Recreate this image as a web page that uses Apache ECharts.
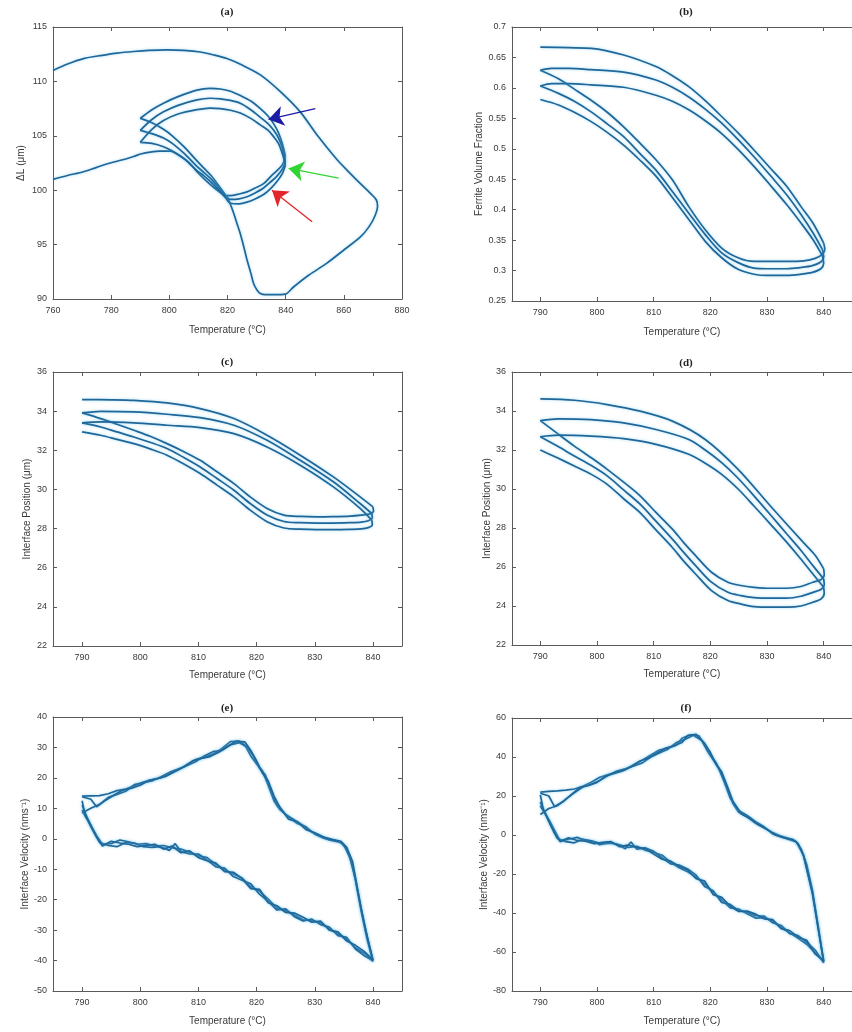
<!DOCTYPE html>
<html><head><meta charset="utf-8">
<script src="https://cdn.jsdelivr.net/npm/echarts@6/dist/echarts.min.js"></script>
<style>html,body{margin:0;padding:0;background:#fff}#c{width:852px;height:1032px}</style>
</head><body><div id="c"></div>
<script>
// ---------- Panel (a): ΔL vs Temperature ----------
const aOuter = [[760,101.0],[765,101.35],[770.5,101.7],[775,102.1],[779.7,102.5],[784,102.8],[787.7,103.1],[790.5,103.35],[793.4,103.5],[796.5,103.6],[800.3,103.6],[804,103.1],[807,102.5],[809.5,101.7],[812.5,100.9],[815.5,100.2],[818,99.7],[819.8,99.4],[821,98.7],[822.1,97.9],[823.3,96.9],[824.4,96.0],[825.6,94.8],[826.7,93.6],[828,92.4],[829,91.4],[830.2,90.8],[831.3,90.5],[833,90.4],[836,90.4],[839.9,90.45],[842.7,91.1],[848,92.2],[854.2,93.3],[860,94.5],[865.7,95.7],[868.8,96.7],[870.8,97.7],[871.6,98.5],[871.2,99.1],[868.8,99.8],[865.7,100.6],[862,101.6],[857.7,102.8],[851,105.0],[845,107.2],[838,109.1],[831.3,110.6],[825,111.5],[819.8,112.1],[815,112.45],[810.7,112.7],[805,112.85],[799.2,112.9],[793,112.85],[787.7,112.75],[782,112.6],[777,112.4],[770.5,112.1],[765,111.6],[760,111.0]];
const aCool1 = [[819.5,99.5],[817,100.4],[814.5,101.3],[812,102.0],[809.5,102.7],[805,104.0],[801,105.0],[798,105.6],[794,106.2],[790,106.6]];
const aCool2 = [[819.5,99.35],[817,100.2],[814.5,101.0],[812,101.6],[809.5,102.2],[805,103.4],[801,104.3],[798,104.8],[794,105.2],[790,105.5]];
const aCool3 = [[819.5,99.25],[817,100.0],[814.5,100.7],[812,101.3],[809.5,101.8],[805,102.9],[801,103.6],[798,104.0],[794,104.3],[790,104.4]];
const aTop1 = [[790,106.6],[794,107.4],[798,108.0],[803,108.6],[809.5,109.2],[814,109.35],[817.5,109.3],[821,109.1],[824.4,108.7],[828,108.2],[831.3,107.5],[834,106.8],[835.9,106.1],[837.5,105.3],[838.7,104.4],[839.5,103.6],[839.9,103.1]];
const aTop2 = [[790,105.5],[794,106.5],[798,107.2],[803,107.8],[809.5,108.3],[814,108.45],[817.5,108.4],[821,108.25],[824.4,108.0],[828,107.4],[831.3,106.7],[834,106.1],[835.9,105.5],[837.5,104.8],[838.7,104.0],[839.5,103.2],[839.9,102.6]];
const aTop3 = [[790,104.4],[794,105.6],[798,106.4],[803,107.0],[809.5,107.4],[814,107.55],[817.5,107.5],[821,107.35],[824.4,107.1],[828,106.6],[831.3,106.0],[834,105.5],[835.9,104.9],[837.5,104.3],[838.7,103.5],[839.5,102.8],[839.9,102.3]];
const aBot1 = [[839.9,103.1],[838.8,102.3],[837,101.8],[835,101.3],[832.4,100.6],[829.5,100.2],[826.7,99.85],[824,99.65],[821,99.5],[819.5,99.5]];
const aBot2 = [[839.9,102.6],[838.8,101.9],[837,101.3],[835,100.8],[832.4,100.2],[829.5,99.75],[826.7,99.4],[824,99.2],[821,99.15],[819.5,99.35]];
const aBot3 = [[839.9,102.3],[838.8,101.5],[837,100.8],[835,100.2],[832.4,99.6],[829.5,99.2],[826.7,98.9],[824,98.75],[821,98.8],[819.5,99.25]];
const aArrowTails = [[850.2,107.5],[858.2,101.1],[849.1,97.1]];
const aArrowHeads = [[834.1,106.5],[841.0,102.0],[835.3,100.0]];

// ---------- Panel (b): Ferrite volume fraction ----------
const bTop1 = [[790,0.667],[795,0.666],[799,0.665],[804.7,0.654],[810.4,0.635],[813.3,0.620],[816.2,0.602],[819.1,0.579],[822,0.553],[824.9,0.526],[827.7,0.498],[830.6,0.468],[833.5,0.438],[836,0.405],[838.1,0.378],[840,0.345]];
const bBot1 = [[840,0.345],[840.2,0.335],[839.8,0.327],[838.5,0.320],[836.5,0.316],[833.5,0.315],[830,0.315],[827.7,0.315],[824.9,0.321],[822,0.337],[819.1,0.367],[816.2,0.405],[813.3,0.449],[810.4,0.482],[807.5,0.510],[804.7,0.536],[801.8,0.560],[798.9,0.580],[796,0.598],[793.2,0.615],[790,0.629]];
const bTop2 = [[790,0.629],[792,0.632],[795,0.632],[798.9,0.630],[804.7,0.626],[810.4,0.613],[813.3,0.601],[816.2,0.585],[819.1,0.565],[822,0.542],[824.9,0.515],[827.7,0.487],[830.6,0.456],[833.5,0.424],[836,0.392],[838.1,0.362],[839.8,0.334]];
const bBot2 = [[839.8,0.334],[840,0.322],[839.5,0.314],[838,0.308],[836,0.305],[833.5,0.303],[830,0.303],[827.7,0.304],[824.9,0.313],[822,0.329],[819.1,0.359],[816.2,0.394],[813.3,0.430],[810.4,0.465],[807.5,0.493],[804.7,0.520],[801.8,0.541],[798.9,0.561],[796,0.578],[793.2,0.591],[790,0.603]];
const bTop3 = [[790,0.603],[792,0.607],[795,0.607],[798.9,0.605],[804.7,0.601],[810.4,0.588],[813.3,0.578],[816.2,0.564],[819.1,0.546],[822,0.525],[824.9,0.499],[827.7,0.471],[830.6,0.440],[833.5,0.408],[836,0.378],[838.1,0.351],[839.8,0.324]];
const bBot3 = [[839.8,0.324],[840,0.312],[839.5,0.303],[838,0.297],[836,0.294],[833.5,0.292],[830,0.292],[827.7,0.294],[824.9,0.302],[822,0.321],[819.1,0.348],[816.2,0.384],[813.3,0.420],[810.4,0.455],[807.5,0.482],[804.7,0.506],[801.8,0.527],[798.9,0.545],[796,0.560],[793.2,0.572],[790,0.581]];

// ---------- Panel (c): Interface position ----------
const cTop1 = [[790,34.59],[795,34.58],[798.9,34.55],[804.6,34.42],[810.3,34.13],[816.1,33.62],[821.8,32.77],[827.5,31.75],[833.2,30.64],[837.8,29.62],[840,29.11]];
const cBot1 = [[840,29.11],[840.1,28.9],[839.5,28.75],[838,28.69],[836.1,28.64],[833,28.61],[830.4,28.6],[827.5,28.62],[824.7,28.69],[821.8,29.03],[818.9,29.62],[816.1,30.3],[813.2,30.9],[810.3,31.49],[807.5,31.93],[804.6,32.34],[801.8,32.7],[798.9,33.02],[796,33.33],[793.2,33.62],[790,33.91]];
const cTop2 = [[790,33.91],[793.2,33.99],[798.9,33.96],[804.6,33.84],[810.3,33.67],[816.1,33.28],[821.8,32.51],[827.5,31.49],[833.2,30.39],[837.8,29.28],[839.8,28.77]];
const cBot2 = [[839.8,28.77],[839.9,28.55],[839.2,28.4],[838,28.33],[836,28.3],[833,28.28],[830.4,28.28],[827.5,28.3],[824.7,28.36],[821.8,28.69],[818.9,29.28],[816.1,29.96],[813.2,30.56],[810.3,31.15],[807.5,31.63],[804.6,32.09],[801.8,32.4],[798.9,32.68],[796,32.94],[793.2,33.19],[790,33.4]];
const cTop3 = [[790,33.4],[793.2,33.45],[798.9,33.40],[804.6,33.28],[810.3,33.16],[816.1,32.85],[821.8,32.17],[827.5,31.24],[833.2,30.13],[837.8,29.03],[839.8,28.43]];
const cBot3 = [[839.8,28.43],[839.9,28.2],[839.2,28.05],[838,27.98],[836,27.96],[833,27.95],[830.4,27.95],[827.5,27.97],[824.7,28.03],[821.8,28.35],[818.9,28.94],[816.1,29.62],[813.2,30.22],[810.3,30.81],[807.5,31.3],[804.6,31.75],[801.8,32.06],[798.9,32.34],[796,32.56],[793.2,32.77],[790,32.94]];

// ---------- Panel (d): Interface position ----------
const dTop1 = [[790,34.62],[796,34.55],[801.8,34.33],[807.6,33.99],[813.3,33.48],[819.1,32.54],[824.9,31.01],[830.6,29.13],[836.4,27.26],[838.5,26.6],[840,25.9]];
const dBot1 = [[840,25.9],[840.1,25.6],[839.5,25.35],[838.1,25.22],[836,25.0],[833.5,24.91],[830.6,24.91],[827.7,24.96],[825.4,25.05],[823.1,25.22],[820.2,25.73],[817.4,26.58],[815.3,27.25],[813.3,27.94],[810.4,28.8],[807.6,29.65],[804.7,30.35],[801.8,31.01],[799,31.6],[796,32.2],[793,32.85],[790,33.51]];
const dTop2 = [[790,33.51],[793.2,33.6],[798.9,33.56],[804.7,33.39],[810.4,33.05],[816.2,32.54],[819.1,32.0],[822,31.35],[824.9,30.55],[827.7,29.65],[830.6,28.68],[833.5,27.69],[836,26.85],[838.1,26.07],[840,25.39]];
const dBot2 = [[840,25.39],[840.1,25.1],[839.5,24.85],[838.1,24.7],[836,24.5],[833.5,24.4],[830.6,24.4],[827.7,24.43],[825.4,24.53],[823.1,24.7],[820.2,25.22],[817.4,26.07],[815.3,26.75],[813.3,27.43],[810.4,28.35],[807.6,29.22],[804.7,29.95],[801.8,30.67],[799,31.2],[796,31.69],[793,32.2],[790,32.68]];
const dTop3 = [[790,32.68],[793.2,32.76],[798.9,32.71],[804.7,32.58],[810.4,32.29],[816.2,31.78],[819.1,31.32],[822,30.75],[824.9,30.0],[827.7,29.13],[830.6,28.2],[833.5,27.26],[836,26.4],[838.1,25.64],[840,24.96]];
const dBot3 = [[840,24.96],[840.1,24.65],[839.5,24.35],[838.1,24.19],[836,24.0],[833.5,23.94],[830.6,23.94],[827.7,23.97],[825.4,24.1],[823.1,24.28],[820.2,24.79],[817.4,25.64],[815.3,26.3],[813.3,27.0],[810.4,27.9],[807.6,28.79],[804.7,29.5],[801.8,30.24],[799,30.75],[796,31.18],[793,31.6],[790,32.0]];

// ---------- Panel (e): Interface velocity ----------
const eCycle1 = [[790,14.0],[791.5,14.1],[793,14.2],[794.5,14.8],[796,15.8],[797.5,16.3],[799,17.4],[800.5,18.6],[802,19.4],[803.5,20.0],[805,21.2],[806.5,22.6],[808,24.3],[809.5,26.0],[811,26.8],[812.5,27.8],[814,29.6],[815.5,31.9],[817,32.1],[818,30.8],[819,27.2],[820,24.6],[821,22.3],[822,17.5],[823,12.4],[824,9.6],[825.5,7.2],[827,5.0],[828.5,3.9],[830,1.5],[831.5,0.2],[833,-0.6],[834.5,-1.2],[835.5,-3.5],[836.5,-8.5],[838,-24.0],[839,-33.0],[840,-40.3],
 [838.5,-37.6],[837,-35.8],[835.5,-33.0],[834,-31.2],[832.5,-29.6],[831,-27.6],[829.5,-26.9],[828,-26.6],[826.5,-25.0],[825,-23.6],[823.5,-22.8],[822,-19.8],[820.5,-17.2],[819,-15.8],[817.5,-12.9],[816,-11.6],[814.5,-10.2],[813,-8.4],[811.5,-6.2],[810,-5.6],[808.5,-4.4],[807,-3.4],[805.5,-3.0],[804,-2.2],[802.5,-2.4],[801,-1.6],[799.5,-1.8],[798,-1.0],[796.5,-0.4],[795,-1.6],[793.5,-1.8],[792.5,1.0],[791.5,4.5],[790.5,7.5],[790,9.5]];
const eCycle2 = [[790,8.5],[791.5,10.0],[793,11.3],[794.5,13.6],[796,14.6],[797.5,15.6],[799,17.8],[800.5,18.4],[802,19.0],[803.5,20.3],[805,21.8],[806.5,22.9],[808,24.0],[809.5,25.3],[811,27.2],[812.5,28.6],[814,29.0],[815.5,30.8],[817,31.6],[818.5,30.0],[819.5,27.0],[820.5,23.2],[821.5,21.0],[822.5,15.6],[823.5,11.0],[825,8.0],[826.5,6.2],[828,4.4],[829.5,2.2],[831,1.0],[832.5,-0.3],[834,-0.8],[835,-2.0],[836,-6.0],[837,-13.5],[838.5,-28.0],[840,-40.0],
 [838.5,-38.4],[837,-36.2],[835.5,-32.4],[834,-31.8],[832.5,-29.0],[831,-28.2],[829.5,-26.4],[828,-27.0],[826.5,-25.6],[825,-23.0],[823.5,-23.4],[822,-20.6],[820.5,-18.2],[819,-14.8],[817.5,-13.6],[816,-12.4],[814.5,-9.6],[813,-9.2],[811.5,-7.0],[810,-5.0],[808.5,-5.0],[807,-4.2],[806,-1.6],[805,-3.8],[803.5,-2.6],[802,-2.8],[800.5,-2.6],[799,-1.4],[797.5,-1.2],[796,-2.6],[794.5,-2.2],[793,-1.2],[792,2.5],[791,6.5],[790,11.0]];
const eCycle3 = [[790,13.8],[791.5,13.0],[792.5,10.5],[794,12.6],[795.5,14.4],[797,16.0],[798.5,16.6],[800,17.6],[801.5,19.2],[803,19.8],[804.5,20.6],[806,22.2],[807.5,23.6],[809,25.6],[810.5,26.4],[812,27.0],[813.5,28.4],[815,30.4],[816.5,32.0],[818,31.8],[819,29.0],[820,25.6],[821,21.6],[822,19.0],[823,14.0],[824,10.4],[825.5,6.4],[827,5.6],[828.5,3.0],[830,2.0],[831.5,0.6],[833,-0.2],[834.5,-0.8],[835.5,-2.8],[836.5,-7.5],[838,-23.0],[839,-32.0],[840,-39.8],
 [838.5,-37.0],[837,-35.0],[835.5,-33.6],[834,-30.6],[832.5,-30.0],[831,-27.0],[829.5,-27.4],[828,-25.8],[826.5,-24.4],[825,-24.2],[823.5,-22.0],[822,-21.0],[820.5,-16.6],[819,-16.4],[817.5,-13.0],[816,-11.0],[814.5,-10.8],[813,-8.0],[811.5,-7.2],[810,-6.2],[808.5,-4.0],[807,-4.6],[805.5,-2.4],[804,-3.4],[802.5,-1.8],[801,-2.2],[799.5,-2.6],[798,-1.8],[796.5,-1.4],[795,-0.8],[793.5,-2.4],[792.5,0.5],[791.5,4.0],[790.5,8.0],[790,12.5]];

// ---------- Panel (f): Interface velocity ----------
const fCycle1 = [[790,22.0],[791.5,22.4],[793,22.6],[794.5,23.0],[796,23.6],[797.5,25.0],[799,27.0],[800.5,29.6],[802,31.0],[803.5,32.2],[805,33.6],[806.5,36.0],[808,38.4],[809.5,41.0],[811,43.6],[812.5,44.6],[814,46.0],[815,49.6],[816.5,51.4],[818,50.8],[819,46.0],[820,41.0],[821,37.2],[822,31.0],[823,23.6],[824,16.0],[825,11.6],[826.5,9.2],[828,6.0],[829.5,3.6],[831,1.2],[832.5,-0.6],[834,-2.0],[835,-3.0],[836,-7.0],[837,-15.0],[838,-28.0],[839,-46.0],[840,-64.8],
 [838.5,-60.5],[837,-56.0],[835.5,-53.0],[834,-50.2],[832.5,-47.6],[831,-44.0],[829.5,-42.4],[828,-42.6],[826.5,-40.4],[825,-38.0],[823.5,-37.4],[822,-33.2],[820.5,-29.4],[819,-25.0],[817.5,-21.6],[816,-18.8],[814.5,-16.8],[813,-14.0],[811.5,-10.4],[810,-9.0],[808.5,-7.8],[807,-5.8],[805.5,-6.4],[804,-5.0],[802.5,-4.2],[801,-4.6],[799.5,-3.4],[798,-2.8],[796.5,-1.2],[795,-2.2],[793.5,-3.0],[792.5,2.5],[791.5,8.0],[790.5,13.0],[790,17.0]];
const fCycle2 = [[790,10.5],[791.5,13.6],[793,15.0],[794.5,18.4],[796,21.6],[797.5,24.6],[799,26.0],[800.5,28.0],[802,30.6],[803.5,32.8],[805,34.0],[806.5,35.4],[808,37.0],[809.5,40.0],[811,42.0],[812.5,44.0],[814,47.4],[815.5,49.0],[817,51.2],[818.5,48.4],[819.5,43.0],[820.5,38.6],[821.5,34.0],[822.5,27.0],[823.5,19.0],[825,12.6],[826.5,10.0],[828,6.8],[829.5,4.2],[831,0.6],[832.5,-1.0],[834,-2.4],[835.2,-3.6],[836.4,-10.0],[838,-30.0],[839,-47.0],[840,-65.5],
 [838.5,-59.0],[837,-55.0],[835.5,-51.6],[834,-50.6],[832.5,-46.4],[831,-45.0],[829.5,-41.6],[828,-41.4],[826.5,-39.6],[825,-38.8],[823.5,-35.6],[822,-34.6],[820.5,-28.6],[819,-26.4],[817.5,-20.6],[816,-17.4],[814.5,-15.4],[813,-14.8],[811.5,-11.8],[810,-8.4],[808.5,-6.6],[807,-7.2],[806,-3.6],[805,-7.0],[803.5,-4.8],[802,-3.6],[800.5,-5.0],[799,-3.0],[797.5,-2.2],[796,-4.0],[794.5,-3.4],[793,-1.8],[792,4.0],[791,10.0],[790,15.0]];
const fCycle3 = [[790,21.4],[791.5,20.0],[792.5,14.6],[794,17.0],[795.5,20.8],[797,24.4],[798.5,25.4],[800,27.0],[801.5,30.2],[803,31.6],[804.5,32.8],[806,35.0],[807.5,37.8],[809,39.4],[810.5,41.8],[812,44.4],[813.5,45.6],[815,47.4],[816,51.0],[817.5,51.6],[819,47.0],[820,42.4],[821,36.4],[822,32.4],[823,25.0],[824,17.2],[825.5,10.8],[827,8.4],[828.5,5.2],[830,3.0],[831.5,0.0],[833,-1.4],[834.5,-2.2],[835.5,-4.4],[836.5,-11.0],[838,-29.0],[839,-47.5],[840,-64.5],
 [838.5,-61.0],[837,-54.0],[835.5,-52.4],[834,-49.0],[832.5,-48.0],[831,-43.4],[829.5,-43.0],[828,-40.6],[826.5,-39.0],[825,-39.2],[823.5,-36.4],[822,-32.0],[820.5,-30.6],[819,-23.6],[817.5,-22.4],[816,-18.0],[814.5,-16.0],[813,-13.4],[811.5,-12.4],[810,-9.8],[808.5,-7.0],[807,-6.2],[805.5,-5.2],[804,-6.0],[802.5,-3.4],[801,-3.8],[799.5,-4.4],[798,-3.2],[796.5,-2.8],[795,-1.4],[793.5,-3.4],[792.5,1.0],[791.5,7.0],[790.5,13.5],[790,20.5]];

// ---------- Axis texts and ticks ----------
const panelTitles = ['(a)','(b)','(c)','(d)','(e)','(f)'];
const xName = 'Temperature (°C)';
const yNames = ['ΔL (μm)','Ferrite Volume Fraction','Interface Position (μm)','Interface Position (μm)','Interface Velocity (nms⁻¹)','Interface Velocity (nms⁻¹)'];
const xTicksA = [760,780,800,820,840,860,880];
const xTicksOther = [790,800,810,820,830,840];
const yTicks = [
  [90,95,100,105,110,115],
  [0.25,0.3,0.35,0.4,0.45,0.5,0.55,0.6,0.65,0.7],
  [22,24,26,28,30,32,34,36],
  [22,24,26,28,30,32,34,36],
  [-50,-40,-30,-20,-10,0,10,20,30,40],
  [-80,-60,-40,-20,0,20,40,60]
];

// ---------- Layout ----------
const grids = [
  {left:53, top:27, width:349, height:272},
  {left:512, top:27, width:347, height:274},
  {left:53, top:372, width:349, height:274},
  {left:512, top:372, width:347, height:273},
  {left:53, top:717, width:349, height:274},
  {left:512, top:718, width:347, height:273}
];
const xRanges = [[760,880],[785,845],[785,845],[785,845],[785,845],[785,845]];
const yNameGaps = [27,28,21,19,23,21];
const xNameGaps = [26,26,24,24,25,25];
const titlePos = [[227,12],[686,12],[227,362],[686,363],[227,708],[686,708]];
const showRightAxis = [true,false,true,false,true,false];

const axisColor = '#5a5a5a';
const textColor = '#3a3a3a';
const lineBlue = '#1f6699';
const sans = 'Liberation Sans, Arial, sans-serif';

const xAxes = [], yAxes = [];
grids.forEach((g, i) => {
  const xt = i === 0 ? xTicksA : xTicksOther;
  const yt = yTicks[i];
  xAxes.push({
    type:'value', gridIndex:i, position:'bottom', min:xRanges[i][0], max:xRanges[i][1],
    splitLine:{show:false}, axisLine:{show:true,onZero:false,lineStyle:{color:axisColor,width:1}},
    axisTick:{show:true, inside:true, length:4, customValues:xt, lineStyle:{color:axisColor}},
    axisLabel:{show:true, customValues:xt, color:textColor, fontSize:9, fontFamily:sans, margin:7},
    name:xName, nameLocation:'middle', nameGap:xNameGaps[i],
    nameTextStyle:{color:textColor, fontSize:10, fontFamily:sans}
  });
  xAxes.push({
    type:'value', gridIndex:i, position:'top', min:xRanges[i][0], max:xRanges[i][1],
    splitLine:{show:false}, axisLine:{show:true,onZero:false,lineStyle:{color:axisColor,width:1}},
    axisTick:{show:true, inside:true, length:4, customValues:xt, lineStyle:{color:axisColor}},
    axisLabel:{show:false}
  });
  yAxes.push({
    type:'value', gridIndex:i, position:'left', min:yt[0], max:yt[yt.length-1],
    splitLine:{show:false}, axisLine:{show:true,onZero:false,lineStyle:{color:axisColor,width:1}},
    axisTick:{show:true, inside:true, length:4, customValues:yt, lineStyle:{color:axisColor}},
    axisLabel:{show:true, customValues:yt, color:textColor, fontSize:9, fontFamily:sans, margin:6},
    name:yNames[i], nameLocation:'middle', nameGap:yNameGaps[i],
    nameTextStyle:{color:textColor, fontSize:10, fontFamily:sans}
  });
  yAxes.push({
    type:'value', gridIndex:i, position:'right', min:yt[0], max:yt[yt.length-1],
    show:showRightAxis[i],
    splitLine:{show:false}, axisLine:{show:true,onZero:false,lineStyle:{color:axisColor,width:1}},
    axisTick:{show:true, inside:true, length:4, customValues:yt, lineStyle:{color:axisColor}},
    axisLabel:{show:false}
  });
});

const series = [];
function addLine(panel, data, smooth) {
  series.push({
    type:'line', xAxisIndex:panel*2, yAxisIndex:panel*2, data:data,
    showSymbol:false, symbol:'none', smooth:smooth, silent:true,
    lineStyle:{color:lineBlue, width:1.7, shadowColor:'rgba(90,190,235,0.55)', shadowBlur:3},
    itemStyle:{color:lineBlue},
    emphasis:{disabled:true}, z:2
  });
}
addLine(0, aOuter, 0.3);
[aCool1,aTop1,aBot1,aCool2,aTop2,aBot2,aCool3,aTop3,aBot3].forEach(d => addLine(0, d, 0.3));
[bTop1,bBot1,bTop2,bBot2,bTop3,bBot3].forEach(d => addLine(1, d, 0.3));
[cTop1,cBot1,cTop2,cBot2,cTop3,cBot3].forEach(d => addLine(2, d, 0.3));
[dTop1,dBot1,dTop2,dBot2,dTop3,dBot3].forEach(d => addLine(3, d, 0.3));
[eCycle1,eCycle2,eCycle3].forEach(d => addLine(4, d, false));
[fCycle1,fCycle2,fCycle3].forEach(d => addLine(5, d, false));

// arrows in panel (a)
const arrowColors = ['#1c1ca6','#2fd62f','#e3262b'];
series.push({
  type:'line', xAxisIndex:0, yAxisIndex:0, data:[], silent:true,
  markLine:{
    silent:true, symbol:['none','arrow'], symbolSize:15,
    label:{show:false}, emphasis:{disabled:true}, animation:false,
    data: aArrowTails.map((t, k) => [
      {coord:t, lineStyle:{color:arrowColors[k], width:1.3, type:'solid'}, itemStyle:{color:arrowColors[k]}},
      {coord:aArrowHeads[k], symbol:'arrow', symbolSize:15, itemStyle:{color:arrowColors[k]}}
    ])
  }
});

const graphics = panelTitles.map((t, i) => ({
  type:'text', x:titlePos[i][0], y:titlePos[i][1],
  style:{text:t, font:'bold 11px "Liberation Serif", "Times New Roman", serif', fill:'#222', textAlign:'center', textVerticalAlign:'middle'}
}));

const chart = echarts.init(document.getElementById('c'), null, {renderer:'canvas'});
chart.setOption({
  backgroundColor:'#ffffff',
  animation:false,
  grid:grids.map(g => Object.assign({containLabel:false}, g)),
  xAxis:xAxes,
  yAxis:yAxes,
  series:series,
  graphic:graphics
});
</script>
</body></html>
